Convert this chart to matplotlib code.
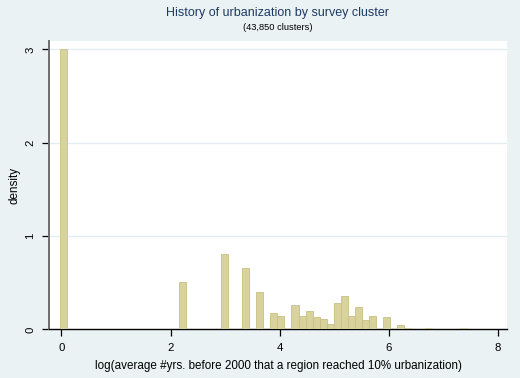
import matplotlib
matplotlib.use("Agg")
import matplotlib.pyplot as plt

plt.rcParams['font.family'] = ['Liberation Sans', 'DejaVu Sans']

# histogram bins (Stata-style): bin index -> density
bin_start = -0.03
bin_width = 0.1287
bin_index = [0, 17, 23, 26, 28, 30, 31, 33, 34, 35, 36, 37, 38, 39, 40,
             41, 42, 43, 44, 46, 48, 49, 52, 57]
density = [3.0, 0.507, 0.807, 0.654, 0.403, 0.171, 0.139, 0.264, 0.139,
           0.193, 0.132, 0.107, 0.060, 0.279, 0.354, 0.146, 0.236, 0.100,
           0.143, 0.135, 0.046, 0.017, 0.014, 0.014]

xticks = [0, 2, 4, 6, 8]
yticks = [0, 1, 2, 3]

bg = '#EAF2F3'
bar_fill = '#D8D29C'
bar_edge = '#C8C084'

fig = plt.figure(figsize=(5.2, 3.78), dpi=100, facecolor=bg)
ax = fig.add_axes([0.0942, 0.1288, 0.8808, 0.7627])
ax.set_facecolor('white')

lefts = [bin_start + i * bin_width for i in bin_index]
ax.bar(lefts, density, width=bin_width, align='edge',
       color=bar_fill, edgecolor=bar_edge, linewidth=0.6, zorder=3)

ax.set_xlim(-0.229, 8.168)
ax.set_ylim(0, 3.089)
ax.set_xticks(xticks)
ax.set_yticks(yticks)
ax.set_yticklabels([str(t) for t in yticks], rotation=90, va='center')

for y in yticks[1:]:
    ax.axhline(y, color='#E2EDF0', linewidth=1.0, zorder=1)

for s in ['top', 'right']:
    ax.spines[s].set_visible(False)
ax.spines['left'].set_color('#6E6E6E')
ax.spines['left'].set_linewidth(1.4)
ax.spines['bottom'].set_color('black')
ax.spines['bottom'].set_linewidth(1.0)
ax.tick_params(direction='out', length=5, width=0.9, labelsize=8.2,
               colors='black', pad=5)

ax.set_xlabel('log(average #yrs. before 2000 that a region reached 10% urbanization)',
              fontsize=8.4, labelpad=5)
ax.set_ylabel('density', fontsize=8.4, labelpad=3)

# titles centred over the plot region, as Stata does
cx = 0.0942 + 0.8808 / 2
fig.text(cx, 1 - 13 / 378, 'History of urbanization by survey cluster',
         ha='center', va='center', fontsize=9.0, color='#1E3A66')
fig.text(cx, 1 - 28 / 378, '(43,850 clusters)',
         ha='center', va='center', fontsize=6.7, color='black')

fig.savefig('out.png', dpi=100, facecolor=bg)
